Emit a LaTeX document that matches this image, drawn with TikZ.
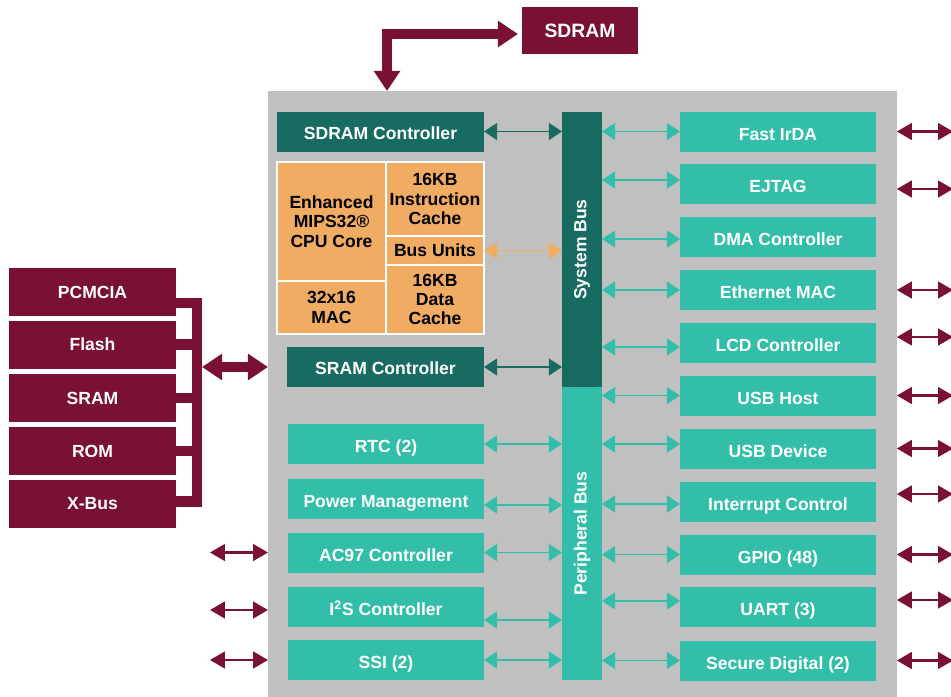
\documentclass[tikz,border=0pt]{standalone}
\usepackage{graphicx}
\usepackage{fontspec}
\setmainfont{Liberation Sans}
\usepackage{tikz}
\usetikzlibrary{arrows.meta}

\definecolor{maroon}{HTML}{7A1034}
\definecolor{darkteal}{HTML}{176B61}
\definecolor{lightteal}{HTML}{33BEA9}
\definecolor{cpuorange}{HTML}{F0AC62}
\definecolor{chipgray}{HTML}{C0C0C0}

\tikzset{
  blk/.style={inner sep=0pt, outer sep=0pt, font=\bfseries, align=center, text=white},
  memblk/.style={blk, fill=maroon, minimum width=3.34cm, minimum height=0.96cm},
  periph/.style={blk, fill=lightteal, minimum width=3.92cm, minimum height=0.8cm,
    text height=10pt, text depth=0pt},
  ctrl/.style={blk, fill=darkteal, minimum height=0.8cm, text height=9pt, text depth=0pt},
  cpu/.style={blk, fill=cpuorange, draw=white, line width=0.8pt, text=black,
    font=\fontsize{10}{11}\selectfont\bfseries},
  bus/.style={blk, minimum width=0.8cm},
  tlink/.style={<->, line width=1.1pt, >={Triangle[length=7.5pt,width=9.6pt]}},
  extlink/.style={<->, draw=maroon, line width=1.3pt, >={Triangle[length=8.5pt,width=9.5pt]}},
  fat/.style={draw=maroon, line width=5.7pt},
  fatarrow/.style={fat, <->, >={Triangle[length=11.5pt,width=14.5pt]}},
}

\begin{document}
\begin{tikzpicture}[x=0.02cm, y=-0.02cm]
\fill[white] (0,0) rectangle (951,697);
\useasboundingbox (0,0) rectangle (951,697);

% chip outline
\node[fill=chipgray, inner sep=0pt, outer sep=0pt, minimum width=12.58cm,
  minimum height=12.12cm, anchor=north west] (chip) at (268,91) {};

\coordinate (sdramtap) at (387,91);
\coordinate (bracket) at (197,0);
\coordinate (memtap) at (202,367);
\coordinate (ledge) at (210,0);
\coordinate (redge) at (953,0);

% external memory
\node[blk, fill=maroon, minimum width=2.32cm, minimum height=0.94cm,
  font=\fontsize{11}{13}\selectfont\bfseries] (sdram) at (580,30.5) {SDRAM};
\node[memblk] (pcmcia) at (92.5,292) {PCMCIA};
\node[memblk] (flash) at (92.5,344.5) {Flash};
\node[memblk] (sram) at (92.5,398) {SRAM};
\node[memblk] (rom) at (92.5,451) {ROM};
\node[memblk] (xbus) at (92.5,504) {X-Bus};

% core side
\node[ctrl, minimum width=4.14cm] (sdramctl) at (380.5,131.5) {SDRAM Controller};
\node[cpu, minimum width=2.18cm, minimum height=2.38cm] (core) at (331.5,221.5)
  {Enhanced\\MIPS32®\\CPU Core};
\node[cpu, minimum width=2.18cm, minimum height=1.06cm] (mac) at (331.5,307.5)
  {32x16\\MAC};
\node[cpu, minimum width=1.96cm, minimum height=1.48cm] (icache) at (435,199)
  {16KB\\Instruction\\Cache};
\node[cpu, minimum width=1.96cm, minimum height=0.58cm] (busunits) at (435,250.5)
  {Bus Units};
\node[cpu, minimum width=1.96cm, minimum height=1.38cm] (dcache) at (435,299.5)
  {16KB\\Data\\Cache};
\node[ctrl, minimum width=3.94cm] (sramctl) at (385.5,367) {SRAM Controller};

% buses
\node[bus, fill=darkteal, minimum height=5.5cm] (sysbus) at (582,249.5)
  {\rotatebox{90}{System Bus}};
\node[bus, fill=lightteal, minimum height=5.86cm] (pbus) at (582,533.5)
  {\rotatebox{90}{Peripheral Bus}};

% peripherals, left column
\node[periph] (rtc) at (386,444) {RTC (2)};
\node[periph] (pm) at (386,498.5) {Power Management};
\node[periph] (ac97) at (386,552.5) {AC97 Controller};
\node[periph] (i2s) at (386,607) {I\textsuperscript{2}S Controller};
\node[periph] (ssi) at (386,660) {SSI (2)};

% peripherals, right column
\node[periph] (irda) at (778,131.5) {Fast IrDA};
\node[periph] (ejtag) at (778,184) {EJTAG};
\node[periph] (dma) at (778,237) {DMA Controller};
\node[periph] (eth) at (778,290) {Ethernet MAC};
\node[periph] (lcd) at (778,343) {LCD Controller};
\node[periph] (usbh) at (778,395.5) {USB Host};
\node[periph] (usbd) at (778,448.5) {USB Device};
\node[periph] (irq) at (778,502) {Interrupt Control};
\node[periph] (gpio) at (778,554.5) {GPIO (48)};
\node[periph] (uart) at (778,607) {UART (3)};
\node[periph] (sd) at (778,660.5) {Secure Digital (2)};

% memory bus
\draw[fatarrow, shorten <=2.3pt] ([yshift=-0.07cm]sdram.west) -| (sdramtap);
\draw[fat] ([yshift=-0.22cm]pcmcia.east) -| ([yshift=0.05cm]xbus.east -| bracket)
  -- ([yshift=0.05cm]xbus.east);
\foreach \m in {flash,sram,rom}
  \draw[fat] (\m.east) -- (\m.east -| bracket);
\draw[fatarrow] (memtap) -- (memtap -| chip.west);

% system bus links
\draw[tlink, darkteal] (sdramctl.east) -- (sdramctl.east -| sysbus.west);
\draw[tlink, cpuorange] (busunits.east) -- (busunits.east -| sysbus.west);
\draw[tlink, darkteal] (sramctl.east) -- (sramctl.east -| sysbus.west);

% peripheral links
\foreach \p/\s in {irda/0, ejtag/0.08, dma/-0.04, eth/0, lcd/-0.08}
  \draw[tlink, lightteal] ([yshift=\s cm]\p.west) -- ([yshift=\s cm]\p.west -| sysbus.east);
\foreach \p/\s in {usbh/0, usbd/0.09, irq/-0.04, gpio/0, uart/0.12, sd/0}
  \draw[tlink, lightteal] ([yshift=\s cm]\p.west) -- ([yshift=\s cm]\p.west -| pbus.east);
\foreach \p/\s in {rtc/0, pm/-0.13, ac97/0, i2s/-0.26, ssi/0}
  \draw[tlink, lightteal] ([yshift=\s cm]\p.east) -- ([yshift=\s cm]\p.east -| pbus.west);

% pins
\foreach \p/\s in {irda/0, ejtag/-0.1, eth/0, lcd/0.12, usbh/0, usbd/0, irq/0.16,
    gpio/0, uart/0.14, sd/0}
  \draw[extlink] ([yshift=\s cm]\p.east -| chip.east) -- ([yshift=\s cm]\p.east -| redge);
\foreach \p/\s in {ac97/0, i2s/-0.06, ssi/0}
  \draw[extlink] ([yshift=\s cm]\p.west -| chip.west) -- ([yshift=\s cm]\p.west -| ledge);
\end{tikzpicture}
\end{document}
